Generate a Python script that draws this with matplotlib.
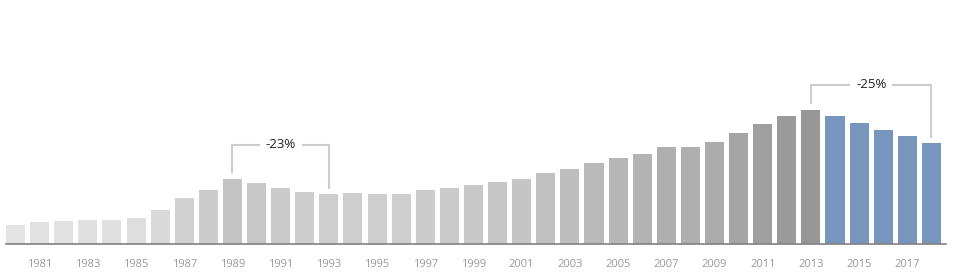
import numpy as np
import matplotlib.pyplot as plt
from matplotlib.colors import LinearSegmentedColormap

# Années et valeurs (unités arbitraires)
annees = list(range(1980, 2019))
valeurs = [19, 22, 23, 24, 24, 26, 34, 45.7, 54, 65,
           60.7, 56, 52, 50, 51, 50, 50, 54, 56, 58.7,
           62, 64.7, 70.7, 75, 81, 86, 90, 96.7, 97, 102,
           111, 119.7, 128, 134, 127.7, 121, 114, 107.7, 101]
tick_annees = list(range(1981, 2018, 2))

# Annotations : (année de début, année de fin, texte, hauteur du crochet)
annotations = [(1989, 1993, '-23%', 99), (2013, 2018, '-25%', 159)]

plt.rcParams['font.family'] = ['Open Sans', 'DejaVu Sans']

fig = plt.figure(figsize=(9.56, 2.74), dpi=100)
ax = fig.add_axes([6 / 956, 30 / 274, 940 / 956, 244 / 274])

x = np.arange(len(annees))
v = np.array(valeurs)

# Dégradé de gris selon la valeur, bleu à partir de 2014
gris = LinearSegmentedColormap.from_list('gris', ['#e3e3e3', '#969696'])
norme = (v - v.min()) / (v.max() - v.min())
couleurs = [gris(n) if a < 2014 else '#7795bd' for a, n in zip(annees, norme)]

larg = 0.79
ax.bar(x, v, width=larg, color=couleurs, zorder=2)

ax.set_xlim(-larg / 2, -larg / 2 + 39.0)
ax.set_ylim(0, 244)

for s in ['top', 'left', 'right']:
    ax.spines[s].set_visible(False)
ax.spines['bottom'].set_color('#808080')
ax.spines['bottom'].set_linewidth(1.2)
ax.set_yticks([])
ax.set_xticks([annees.index(a) for a in tick_annees])
ax.set_xticklabels([str(a) for a in tick_annees], fontsize=8, color='#999999')
ax.tick_params(axis='x', length=0, pad=11)

# Crochets avec le pourcentage de baisse
for debut, fin, texte, haut in annotations:
    i0, i1 = annees.index(debut), annees.index(fin)
    ax.plot([i0, i0, i1, i1],
            [valeurs[i0] + 7, haut, haut, valeurs[i1] + 6],
            color='#cccccc', lw=1.5, zorder=1, solid_joinstyle='miter')
    ax.text((i0 + i1) / 2, haut, texte, ha='center', va='center',
            fontsize=9.5, color='#222222', zorder=3,
            bbox=dict(boxstyle='square,pad=0.45', fc='white', ec='none'))

fig.savefig('out.png', dpi=100)
